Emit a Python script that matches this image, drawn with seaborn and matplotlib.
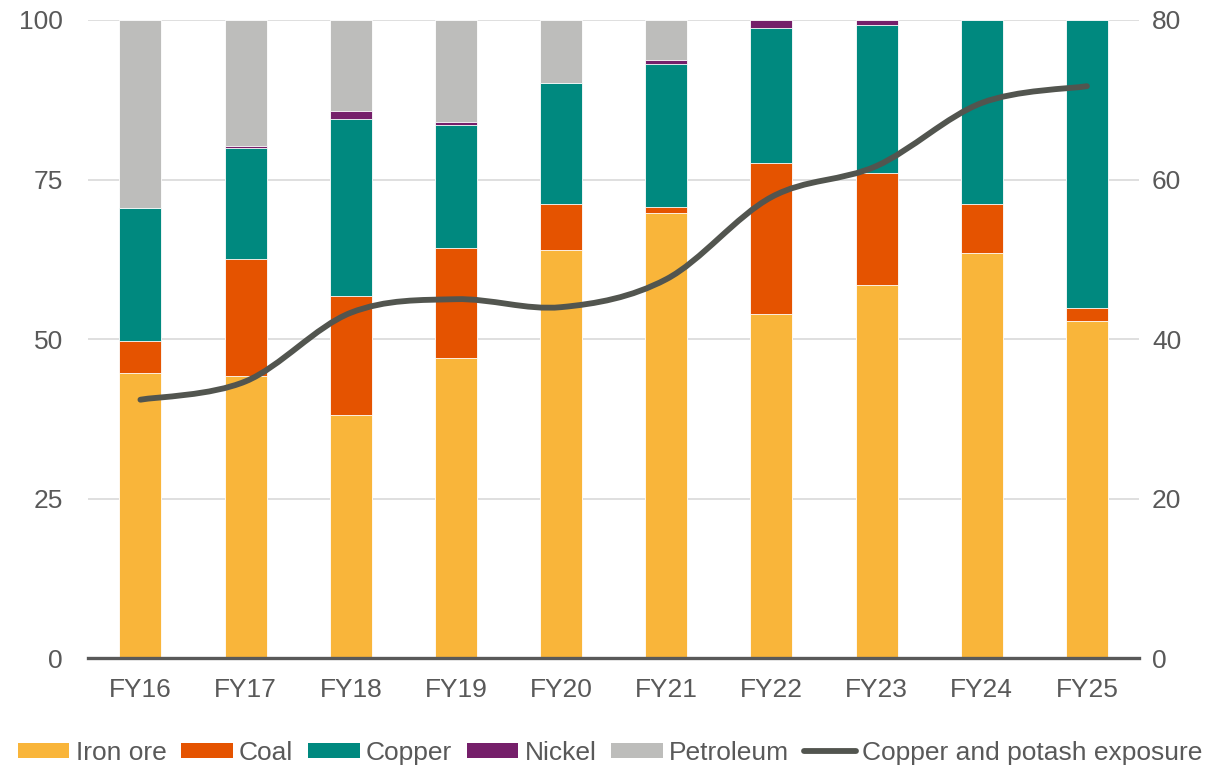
import numpy as np
import matplotlib
matplotlib.use("Agg")
import matplotlib.pyplot as plt
from matplotlib.path import Path
from matplotlib.patches import PathPatch, Patch
from matplotlib.lines import Line2D
import seaborn as sns

years = ["FY16", "FY17", "FY18", "FY19", "FY20", "FY21", "FY22", "FY23", "FY24", "FY25"]
iron_ore = [44.7, 44.2, 38.1, 47.0, 63.9, 69.7, 53.9, 58.5, 63.5, 52.8]
coal = [5.0, 18.3, 18.6, 17.3, 7.3, 1.0, 23.7, 17.5, 7.7, 2.1]
copper = [20.8, 17.4, 27.8, 19.2, 18.9, 22.4, 21.1, 23.2, 28.8, 45.1]
nickel = [0.0, 0.3, 1.2, 0.5, 0.0, 0.6, 1.3, 0.8, 0.0, 0.0]
petroleum = [29.5, 19.8, 14.3, 16.0, 9.9, 6.3, 0.0, 0.0, 0.0, 0.0]
exposure = [32.4, 34.7, 43.3, 45.0, 44.0, 47.5, 57.8, 61.7, 69.6, 71.7]

series_names = ["Iron ore", "Coal", "Copper", "Nickel", "Petroleum"]
colors = ["#F9B53A", "#E55300", "#00897F", "#751F6A", "#BDBDBB"]
line_color = "#52554F"
text_color = "#595959"

sns.set_theme(style="white")
plt.rcParams["font.family"] = ["Liberation Sans", "DejaVu Sans"]

FS = 19

fig = plt.figure(figsize=(12.2, 7.68), dpi=100)
ax = fig.add_axes([0.072, 0.143, 0.862, 0.831])

layers = [iron_ore, coal, copper, nickel, petroleum]
cum = np.cumsum(np.array(layers), axis=0)
for i in reversed(range(len(layers))):
    sns.barplot(x=years, y=cum[i], color=colors[i], width=0.4, saturation=1,
                errorbar=None, edgecolor="white", linewidth=0.6, ax=ax, zorder=2)

ax.set_xlim(-0.5, 9.5)
ax.set_ylim(0, 100)
ax.set_yticks([0, 25, 50, 75, 100])
ax.set_xlabel("")
ax.set_ylabel("")
ax.set_axisbelow(True)
ax.yaxis.grid(True, color="#D9D9D9", linewidth=1.2)
ax.xaxis.grid(False)
for s in ["left", "right", "top"]:
    ax.spines[s].set_visible(False)
ax.spines["bottom"].set_color(text_color)
ax.spines["bottom"].set_linewidth(2.4)
ax.spines["bottom"].set_zorder(5)
ax.tick_params(axis="y", length=0, pad=18, labelsize=FS, labelcolor=text_color)
ax.tick_params(axis="x", length=0, pad=14, labelsize=FS, labelcolor=text_color)

ax2 = ax.twinx()
ax2.set_ylim(0, 80)
ax2.set_yticks([0, 20, 40, 60, 80])
for s in ["left", "right", "top", "bottom"]:
    ax2.spines[s].set_visible(False)
ax2.tick_params(axis="y", length=0, pad=9, labelsize=FS, labelcolor=text_color)
ax2.grid(False)

# smooth curve (Excel-style) through the exposure points
xs = np.arange(len(exposure), dtype=float)
ys = np.array(exposure, dtype=float)
verts = [(xs[0], ys[0])]
codes = [Path.MOVETO]
n = len(xs)
for k in range(n - 1):
    p0 = np.array([xs[max(k - 1, 0)], ys[max(k - 1, 0)]])
    p1 = np.array([xs[k], ys[k]])
    p2 = np.array([xs[k + 1], ys[k + 1]])
    p3 = np.array([xs[min(k + 2, n - 1)], ys[min(k + 2, n - 1)]])
    c1 = p1 + (p2 - p0) / 6.0
    c2 = p2 - (p3 - p1) / 6.0
    verts += [tuple(c1), tuple(c2), tuple(p2)]
    codes += [Path.CURVE4, Path.CURVE4, Path.CURVE4]
patch = PathPatch(Path(verts, codes), facecolor="none", edgecolor=line_color,
                  linewidth=4.2, capstyle="round", joinstyle="round", zorder=4)
ax2.add_patch(patch)

handles = [Patch(facecolor=c, edgecolor="none") for c in colors]
handles.append(Line2D([0], [0], color=line_color, linewidth=4.2, solid_capstyle="round"))
labels = series_names + ["Copper and potash exposure"]
leg = fig.legend(handles, labels, loc="center", bbox_to_anchor=(0.5, 15 / 768), ncol=6,
                 frameon=False, fontsize=FS, handlelength=1.95, handleheight=0.53,
                 handletextpad=0.23, columnspacing=0.57, borderpad=0, borderaxespad=0)
for t in leg.get_texts():
    t.set_color(text_color)

fig.savefig("out.png", dpi=100)
